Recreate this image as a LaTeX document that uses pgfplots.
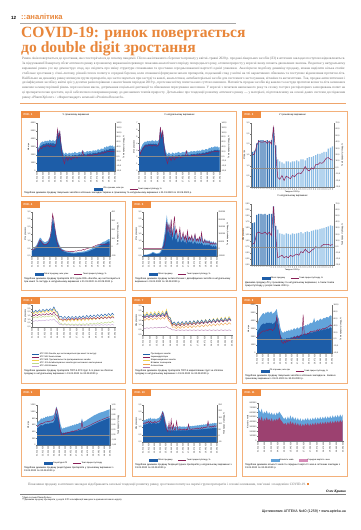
\documentclass[border=0pt]{standalone}
\usepackage{fontspec}
\setmainfont{Liberation Serif}
\setsansfont{Liberation Sans}
\usepackage{pgfplots}
\usepackage{pgfplotstable}
\pgfplotsset{compat=1.18}

\definecolor{org}{HTML}{E8863A}
\definecolor{pbord}{HTML}{F3B07A}
\definecolor{ptab}{HTML}{EF8A3E}
\definecolor{cblue}{HTML}{1D5DA8}
\definecolor{lblue}{HTML}{62A3DA}
\definecolor{cbar1}{HTML}{3573B3}
\definecolor{cbar2}{HTML}{8CBDE5}
\definecolor{cpur}{HTML}{8A1F57}
\definecolor{ppink}{HTML}{D68CB8}
\definecolor{cyel}{HTML}{F2CF4A}
\definecolor{cgrn}{HTML}{BFD98A}
\definecolor{clav}{HTML}{C6A5D6}
\definecolor{corg}{HTML}{EFA24C}
\definecolor{txtg}{HTML}{6A6A6A}

\newcommand{\tickf}{\sffamily\fontsize{2}{2.3}\selectfont}
\newcommand{\wkf}{\sffamily\fontsize{1.5}{1.7}\selectfont}
\newcommand{\capf}{\sffamily\fontsize{2.4}{2.95}\selectfont}
\newcommand{\legf}{\sffamily\fontsize{2.1}{2.4}\selectfont}

\pgfplotsset{
  base/.style={scale only axis, anchor=south west,
    axis line style={black!55,line width=0.2pt},
    every tick/.style={black!55,line width=0.2pt},
    major tick length=0.8pt, tick align=outside,
    tick label style={font=\tickf, text=black!85},
    yticklabel style={inner sep=0.6pt},
    xticklabel style={inner sep=0.6pt},
    label style={font=\tickf, inner sep=0.5pt},
    title style={font=\sffamily\fontsize{2.4}{2.8}\selectfont, inner sep=0.8pt},
    scaled ticks=false,
    /pgf/number format/fixed,
    /pgf/number format/assume math mode=true,
    /pgf/number format/1000 sep={},
    xmin=0, xmax=273},
  dates/.style={xtick={0,21,42,63,84,105,126,147,168,189,210,231,252,273},
    xticklabels={01.01.2020,22.01.2020,12.02.2020,04.03.2020,25.03.2020,15.04.2020,06.05.2020,27.05.2020,17.06.2020,08.07.2020,29.07.2020,19.08.2020,09.09.2020,30.09.2020},
    xticklabel style={rotate=90,anchor=east}},
  lax/.style={base, dates, axis x line*=bottom, axis y line*=left},
  rax/.style={base, axis x line=none, axis y line*=right},
  d1/.style={yticklabel style={/pgf/number format/.cd,fixed,fixed zerofill,precision=1,use comma}},
  d2/.style={yticklabel style={/pgf/number format/.cd,fixed,fixed zerofill,precision=2,use comma}},
  leg/.style={legend style={draw=none, fill=none, font=\legf, legend columns=2, inner sep=0pt, outer sep=0pt, nodes={inner sep=0.4pt}, /tikz/every even column/.append style={column sep=5pt}}},
  bluesq/.style={legend image code/.code={\fill[cblue] (0pt,-0.9pt) rectangle (8pt,0.9pt);}},
  lblsq/.style={legend image code/.code={\fill[lblue] (0pt,-0.9pt) rectangle (8pt,0.9pt);}},
  pursq/.style={legend image code/.code={\fill[ppink] (0pt,-0.9pt) rectangle (8pt,0.9pt);}},
  purln/.style={legend image code/.code={\draw[cpur,line width=0.5pt] (0pt,0pt) -- (8pt,0pt);}},
  zline/.style={black!45, line width=0.25pt},
}

\newcommand{\panel}[5]{%
  \draw[pbord, line width=0.8pt] (#1pt,-#2pt) rectangle (#3pt,-#4pt);
  \fill[ptab] (#1pt,-#2pt) rectangle ++(19pt,-6.5pt);
  \node[anchor=west, text=white, font=\sffamily\bfseries\fontsize{2.7}{3}\selectfont, inner sep=0pt, xshift=2.5pt, yshift=-3.3pt] at (#1pt,-#2pt) {РИС. #5};
}

% Fig 1: d, money lo/hi (mln UAH), growth %, packs lo/hi, growth %
\pgfplotstableread{
d lo hi p lo2 hi2 p2
0 3000 4000 70 3.0 4.2 49
4 2500 2800 20 2.6 3.0 11
8 2700 3100 30 3.0 3.5 23
12 3100 3500 37 3.4 3.9 31
16 3200 3600 33 3.6 4.1 37
20 3300 3700 40 3.8 4.3 43
24 3400 3600 43 3.9 4.2 46
28 3300 3800 40 3.8 4.4 43
32 3500 3700 47 4.0 4.3 49
36 3400 3800 43 3.9 4.4 46
40 3500 3700 47 4.0 4.3 49
44 3400 3900 40 3.9 4.5 43
48 3500 3800 47 4.0 4.4 49
52 3400 3700 43 3.9 4.3 46
56 3500 3900 43 4.0 4.5 46
60 3400 3700 40 3.9 4.3 43
64 3300 3800 43 3.8 4.4 46
68 3600 3900 57 4.2 4.6 60
72 5000 5300 113 6.0 6.5 123
76 4200 4600 77 5.0 5.4 80
80 4800 5100 103 5.6 6.0 106
84 3500 3800 47 4.0 4.4 49
88 2500 2800 7 2.9 3.3 9
92 2000 2300 -13 2.3 2.7 -11
96 1700 2100 -30 2.0 2.4 -29
100 2000 2300 -10 2.3 2.7 -9
104 1900 2200 -3 2.2 2.6 -3
108 1800 2100 -17 2.1 2.4 -17
112 2000 2300 -3 2.3 2.7 -3
116 1900 2200 -7 2.2 2.6 -6
120 1800 2200 -13 2.1 2.5 -14
124 2000 2300 0 2.3 2.7 0
128 1900 2200 -7 2.2 2.6 -6
132 2000 2400 -3 2.3 2.8 -3
136 2000 2300 3 2.3 2.7 3
140 1900 2200 -7 2.2 2.6 -6
144 2000 2300 0 2.3 2.7 0
148 2100 2400 -3 2.4 2.8 -3
152 2000 2300 3 2.3 2.7 3
156 2100 2400 0 2.4 2.8 0
160 2000 2600 23 2.3 3.0 23
164 2100 2400 0 2.4 2.8 0
168 2100 2300 3 2.4 2.7 3
172 2000 2400 0 2.3 2.8 0
176 2200 2500 3 2.5 2.9 3
180 2100 2400 7 2.4 2.8 6
184 2200 2500 3 2.5 2.9 3
188 2200 2500 7 2.5 2.9 6
192 2100 2400 0 2.4 2.8 0
196 2300 2600 7 2.6 3.0 6
200 2200 2500 7 2.5 2.9 6
204 2300 2600 10 2.6 3.0 9
208 2200 2500 7 2.5 2.9 6
212 2300 2700 10 2.6 3.1 9
216 2400 2700 13 2.7 3.1 11
220 2300 2600 10 2.6 3.0 9
224 2400 2800 13 2.7 3.2 11
228 2500 2800 17 2.8 3.2 14
232 2400 2700 13 2.7 3.1 11
236 2600 3000 20 2.9 3.4 17
240 2500 2900 17 2.8 3.3 14
244 2700 3100 20 3.0 3.5 20
248 2600 3000 23 2.9 3.4 20
252 2700 3100 20 3.0 3.5 20
256 2800 3200 23 3.1 3.6 23
260 2700 3100 20 3.0 3.5 20
264 2800 3200 23 3.1 3.6 23
268 2700 3000 20 3.0 3.4 20
272 2800 3100 20 3.1 3.5 20
}\tA

% Fig 3: weeks
\pgfplotstableread{
w v1 p1 v2 p2
1 1.65 20 1.72 4
2 1.70 22 1.75 6
3 2.05 35 2.05 22
4 2.20 42 2.10 24
5 2.20 40 2.10 22
6 2.20 40 2.08 22
7 2.15 42 2.10 24
8 2.20 38 2.05 20
9 2.10 42 2.10 24
10 2.20 37 2.10 18
11 2.80 63 2.40 66
12 1.95 23 1.60 18
13 1.30 -15 1.45 -18
14 1.20 -18 1.30 -16
15 1.15 -12 1.28 -14
16 1.10 -20 1.25 -18
17 1.20 -13 1.30 -16
18 1.20 -15 1.28 -18
19 1.15 -17 1.25 -14
20 1.20 -12 1.30 -16
21 1.20 -14 1.28 -14
22 1.25 -10 1.30 -12
23 1.20 -8 1.32 -14
24 1.30 -9 1.35 -8
25 1.30 -5 1.30 -10
26 1.25 2 1.35 -4
27 1.35 -3 1.38 -8
28 1.40 -5 1.35 -10
29 1.40 0 1.40 -6
30 1.45 -2 1.42 -4
31 1.50 5 1.45 0
32 1.55 5 1.45 -2
33 1.55 8 1.48 -2
34 1.60 7 1.50 2
35 1.65 10 1.52 4
36 1.65 15 1.55 4
37 1.80 16 1.58 4
38 1.85 13 1.62 2
39 1.90 12 1.60 4
}\tW

% Fig 4
\pgfplotstableread{
d lo hi p
0 0.35 0.45 -25
4 0.40 0.50 -33
8 0.45 0.55 -25
12 0.50 0.65 -8
16 0.60 0.75 0
20 0.70 0.90 25
24 0.90 1.10 58
28 1.05 1.25 83
32 1.00 1.20 67
36 0.90 1.05 50
40 0.85 1.00 33
44 0.80 0.95 25
48 0.80 0.95 33
52 0.85 1.00 33
56 0.90 1.05 50
60 1.00 1.20 67
64 1.20 1.40 117
68 1.60 1.90 200
72 2.40 2.70 375
76 2.20 2.40 317
80 1.80 2.00 217
84 1.40 1.60 117
88 1.00 1.20 50
92 0.80 0.95 17
96 0.60 0.75 -8
100 0.50 0.60 -25
104 0.40 0.50 -33
108 0.35 0.45 -37
112 0.30 0.40 -42
116 0.28 0.35 -42
120 0.25 0.32 -45
124 0.22 0.30 -45
128 0.20 0.28 -50
132 0.20 0.27 -47
136 0.18 0.25 -50
140 0.18 0.25 -45
144 0.17 0.24 -50
148 0.17 0.23 -47
152 0.18 0.24 -42
156 0.18 0.25 -45
160 0.19 0.26 -40
164 0.20 0.27 -37
168 0.20 0.28 -33
172 0.21 0.28 -37
176 0.22 0.30 -30
180 0.23 0.31 -25
184 0.24 0.32 -33
188 0.26 0.34 -20
192 0.28 0.37 -17
196 0.30 0.40 -13
200 0.33 0.43 -8
204 0.36 0.46 -8
208 0.40 0.50 -3
212 0.43 0.54 3
216 0.47 0.58 8
220 0.50 0.62 13
224 0.55 0.67 20
228 0.60 0.72 25
232 0.63 0.76 30
236 0.68 0.80 25
240 0.72 0.85 33
244 0.75 0.90 30
248 0.80 0.95 37
252 0.82 0.98 33
256 0.85 1.00 30
260 0.90 1.05 25
264 0.95 1.10 33
268 1.00 1.15 37
272 1.00 1.15 33
}\tB

% Fig 5
\pgfplotstableread{
d lo hi p
0 0.05 0.08 0
4 0.05 0.08 0
8 0.06 0.09 0
12 0.06 0.10 0
16 0.07 0.10 0
20 0.08 0.12 0
24 0.10 0.15 0
28 0.12 0.18 0
32 0.15 0.22 0
36 0.20 0.28 0
40 0.18 0.25 0
44 0.15 0.22 0
48 0.12 0.18 0
52 0.12 0.18 0
56 0.13 0.20 0
60 0.15 0.22 0
64 0.20 0.30 0
68 0.30 0.45 2000
72 0.50 0.70 5000
76 0.80 1.10 10000
80 1.20 1.60 30000
84 1.60 2.20 80000
88 2.40 2.80 180000
92 1.50 2.00 120000
96 1.80 2.30 160000
100 1.20 1.60 90000
104 2.00 2.50 200000
108 1.00 1.40 80000
112 1.30 1.90 150000
116 1.60 2.10 220000
120 1.10 1.50 100000
124 1.20 1.70 130000
128 0.90 1.30 70000
132 1.00 1.40 90000
136 1.30 1.80 140000
140 0.90 1.20 60000
144 1.00 1.30 80000
148 1.10 1.50 110000
152 0.90 1.20 60000
156 1.00 1.40 90000
160 0.80 1.10 50000
164 1.10 1.60 120000
168 0.90 1.20 60000
172 1.00 1.30 80000
176 0.90 1.20 60000
180 1.00 1.40 90000
184 0.80 1.10 50000
188 0.90 1.20 70000
192 1.00 1.50 100000
196 0.80 1.10 50000
200 0.90 1.20 70000
204 0.80 1.10 50000
208 0.90 1.30 80000
212 0.80 1.10 50000
216 0.90 1.50 110000
220 0.80 1.10 50000
224 0.70 1.00 40000
228 0.80 1.20 60000
232 0.70 1.00 40000
236 0.80 1.10 50000
240 0.70 0.95 40000
244 0.80 1.10 50000
248 0.70 0.95 30000
252 0.70 1.00 40000
256 0.60 0.90 30000
260 0.70 1.00 40000
264 0.60 0.85 30000
268 0.70 0.95 35000
272 0.60 0.85 30000
}\tC

% Fig 6: five ATC groups
\pgfplotstableread{
d a b c e f
0 2.25 1.70 2.05 1.38 0.85
6 1.98 1.52 1.78 1.24 0.77
12 2.30 1.73 2.10 1.41 0.88
18 2.03 1.55 1.83 1.27 0.80
24 2.36 1.77 2.15 1.45 0.91
30 2.08 1.58 1.88 1.30 0.83
36 2.41 1.80 2.20 1.48 0.95
42 2.14 1.62 1.93 1.33 0.87
48 2.46 1.83 2.25 1.51 0.98
54 2.19 1.65 1.98 1.37 0.90
60 2.51 1.86 2.30 1.54 1.01
66 2.24 1.68 2.03 1.40 0.93
72 2.75 2.05 2.50 1.68 1.10
78 2.20 1.65 2.00 1.27 0.80
84 2.05 1.55 1.85 1.08 0.65
90 1.35 1.05 1.05 0.57 0.35
96 1.45 1.10 1.05 0.48 0.35
102 1.15 0.91 0.76 0.32 0.24
108 1.45 1.12 1.06 0.47 0.34
114 1.15 0.93 0.77 0.31 0.23
120 1.45 1.15 1.07 0.44 0.32
126 1.15 0.96 0.78 0.28 0.22
132 1.45 1.18 1.08 0.43 0.31
138 1.15 0.99 0.80 0.27 0.20
144 1.46 1.20 1.11 0.43 0.30
150 1.18 1.01 0.82 0.28 0.20
156 1.49 1.22 1.13 0.44 0.30
162 1.21 1.03 0.85 0.29 0.20
168 1.53 1.24 1.16 0.45 0.30
174 1.24 1.05 0.88 0.31 0.21
180 1.58 1.26 1.20 0.47 0.31
186 1.30 1.07 0.92 0.33 0.21
192 1.62 1.28 1.23 0.52 0.31
198 1.35 1.09 0.95 0.37 0.22
204 1.66 1.30 1.27 0.54 0.32
210 1.39 1.11 1.00 0.39 0.22
216 1.71 1.32 1.33 0.59 0.32
222 1.43 1.13 1.06 0.44 0.23
228 1.75 1.34 1.39 0.63 0.33
234 1.47 1.15 1.12 0.48 0.23
240 1.79 1.36 1.45 0.67 0.33
246 1.52 1.17 1.17 0.53 0.24
252 1.84 1.38 1.50 0.71 0.34
258 1.56 1.19 1.23 0.57 0.24
264 1.88 1.40 1.56 0.76 0.35
270 1.60 1.20 1.30 0.62 0.25
}\tD

% Fig 7: five groups
\pgfplotstableread{
d a b c e f
0 2.15 1.95 2.35 1.70 0.73
6 1.86 1.76 1.96 1.51 0.68
12 2.18 1.98 2.38 1.73 0.75
18 1.89 1.79 1.99 1.54 0.69
24 2.20 2.00 2.40 1.75 0.76
30 1.92 1.82 2.02 1.57 0.71
36 2.23 2.03 2.43 1.78 0.78
42 1.95 1.85 2.05 1.60 0.72
48 2.26 2.06 2.46 1.81 0.79
54 1.97 1.87 2.07 1.62 0.74
60 2.29 2.09 2.49 1.84 0.81
66 2.00 1.90 2.10 1.65 0.77
72 2.45 2.25 2.65 2.00 0.88
78 1.85 1.70 1.90 1.50 0.72
84 1.75 1.50 1.80 1.30 0.68
90 1.15 1.00 1.00 0.80 0.52
96 1.35 1.10 1.25 0.85 0.53
102 1.06 0.92 0.87 0.66 0.47
108 1.38 1.13 1.29 0.88 0.53
114 1.09 0.95 0.90 0.68 0.47
120 1.40 1.16 1.32 0.90 0.53
126 1.12 0.98 0.94 0.71 0.47
132 1.43 1.19 1.36 0.93 0.53
138 1.15 1.01 0.98 0.75 0.47
144 1.46 1.23 1.41 0.96 0.53
150 1.17 1.04 1.03 0.76 0.47
156 1.49 1.26 1.46 0.97 0.53
162 1.20 1.08 1.08 0.79 0.47
168 1.51 1.30 1.51 1.00 0.53
174 1.23 1.12 1.13 0.82 0.47
180 1.55 1.34 1.56 1.05 0.53
186 1.26 1.16 1.18 0.86 0.47
192 1.58 1.38 1.61 1.08 0.53
198 1.29 1.20 1.24 0.89 0.47
204 1.61 1.42 1.66 1.11 0.53
210 1.33 1.24 1.29 0.93 0.47
216 1.64 1.46 1.71 1.15 0.53
222 1.36 1.28 1.34 0.97 0.47
228 1.68 1.50 1.77 1.18 0.53
234 1.40 1.32 1.39 1.00 0.47
240 1.71 1.54 1.82 1.22 0.53
246 1.43 1.36 1.45 1.03 0.47
252 1.75 1.58 1.87 1.25 0.53
258 1.47 1.40 1.50 1.06 0.47
264 1.78 1.62 1.92 1.28 0.53
270 1.50 1.44 1.55 1.10 0.47
}\tE

% Fig 8
\pgfplotstableread{
d lo hi p
0 2500 3500 7
4 2800 3900 11
8 3000 4300 14
12 3300 4500 18
16 3500 4700 21
20 3600 4900 23
24 3700 5000 25
28 3600 4800 23
32 3700 5100 25
36 3800 5000 28
40 3700 5200 25
44 3800 5000 30
48 3700 5100 28
52 3800 5200 30
56 3600 4900 25
60 3700 5000 28
64 3800 5100 32
68 4000 5300 42
72 4500 5500 67
76 3500 4600 49
80 3000 4200 30
84 2400 3300 11
88 2000 2800 -3
92 1800 2600 -10
96 1700 2500 -12
100 1800 2700 -5
104 1700 2600 -10
108 1900 2800 -3
112 1800 2700 -7
116 1900 2900 0
120 1800 2700 -5
124 2000 3000 2
128 1900 2800 0
132 2000 3000 4
136 2100 3100 7
140 2000 2900 2
144 2100 3100 7
148 2200 3200 9
152 2100 3000 4
156 2200 3200 9
160 2300 3300 11
164 2200 3200 14
168 2400 3400 72
172 2300 3300 14
176 2400 3500 16
180 2300 3400 14
184 2500 3600 18
188 2400 3500 16
192 2500 3700 21
196 2600 3800 23
200 2500 3700 21
204 2600 3900 23
208 2700 4400 25
212 2600 3800 23
216 2700 4000 25
220 2800 4100 28
224 2700 4000 25
228 2800 4200 30
232 2900 4300 30
236 2800 4100 28
240 2900 4300 32
244 3000 4400 32
248 2900 4300 30
252 3000 4500 35
256 3100 4500 35
260 3000 4400 37
264 3100 4600 39
268 3200 4700 42
272 3100 4600 39
}\tF

% Fig 9
\pgfplotstableread{
d lo hi r
0 500 650 0.33
4 520 700 0.37
8 550 720 0.40
12 580 760 0.43
16 600 800 0.47
20 580 780 0.45
24 600 820 0.48
28 620 800 0.51
32 640 850 0.53
36 620 830 0.52
40 650 870 0.55
44 630 840 0.53
48 660 880 0.56
52 650 860 0.55
56 670 890 0.57
60 660 880 0.59
64 700 920 0.64
68 800 1000 0.80
72 950 1150 1.07
76 900 1080 0.93
80 750 950 0.67
84 600 780 0.40
88 450 620 0.13
92 380 520 0.00
96 350 480 -0.03
100 370 520 0.07
104 360 500 0.04
108 380 540 0.09
112 370 520 0.07
116 390 560 0.11
120 380 540 0.09
124 400 580 0.13
128 390 560 0.12
132 410 600 0.16
136 400 580 0.13
140 420 620 0.17
144 410 600 0.16
148 430 640 0.20
152 420 620 0.19
156 440 650 0.23
160 450 670 0.24
164 440 650 0.23
168 460 800 0.53
172 470 690 0.27
176 480 700 0.28
180 490 720 0.31
184 500 730 0.32
188 520 760 0.35
192 530 780 0.36
196 550 800 0.39
200 560 820 0.40
204 580 840 0.43
208 600 860 0.45
212 610 880 0.47
216 630 900 0.49
220 640 910 0.51
224 660 930 0.53
228 670 940 0.55
232 690 960 0.57
236 700 970 0.59
240 710 980 0.60
244 720 990 0.61
248 740 1000 0.64
252 750 1010 0.65
256 760 1020 0.67
260 780 1040 0.69
264 790 1050 0.71
268 800 1060 0.72
272 810 1070 0.73
}\tG

% Fig 10
\pgfplotstableread{
d lo hi p
0 1.10 1.40 94
4 1.20 1.50 106
8 1.15 1.45 100
12 1.25 1.55 112
16 1.20 1.50 106
20 1.30 1.60 118
24 1.25 1.55 106
28 1.30 1.65 118
32 1.20 1.50 106
36 1.30 1.60 112
40 1.25 1.55 106
44 1.30 1.60 118
48 1.20 1.50 106
52 1.30 1.60 112
56 1.25 1.60 118
60 1.30 1.65 118
64 1.40 1.75 130
68 1.60 1.90 154
72 1.85 2.10 190
76 1.70 2.00 166
80 1.40 1.70 118
84 1.10 1.35 70
88 0.85 1.10 46
92 0.75 1.00 34
96 0.80 1.05 106
100 0.75 1.00 40
104 0.80 1.05 130
108 0.75 1.00 46
112 0.80 1.10 94
116 0.75 1.00 46
120 0.80 1.05 52
124 0.75 1.00 118
128 0.80 1.05 52
132 0.78 1.02 46
136 0.80 1.08 58
140 0.76 1.00 46
144 0.80 1.05 52
148 0.78 1.02 48
152 0.80 1.06 56
156 0.77 1.00 46
160 0.80 1.05 52
164 0.78 1.03 48
168 0.82 1.08 94
172 0.80 1.05 52
176 0.82 1.08 56
180 0.80 1.05 51
184 0.83 1.10 58
188 0.80 1.06 53
192 0.84 1.12 60
196 0.82 1.08 56
200 0.85 1.14 64
204 0.83 1.10 58
208 0.86 1.15 64
212 0.84 1.12 58
216 0.88 1.18 68
220 0.85 1.14 60
224 0.88 1.20 70
228 0.86 1.15 64
232 0.90 1.22 72
236 0.88 1.18 68
240 0.92 1.25 118
244 0.90 1.20 70
248 0.93 1.26 76
252 0.90 1.22 70
256 0.95 1.28 80
260 0.92 1.24 72
264 0.96 1.30 82
268 0.94 1.26 76
272 0.96 1.30 82
}\tH

% Fig 11
\pgfplotstableread{
d hi mid
0 700000 450000
4 650000 500000
8 600000 420000
12 680000 520000
16 560000 400000
20 620000 480000
24 580000 420000
28 640000 500000
32 560000 430000
36 610000 470000
40 550000 410000
44 600000 480000
48 540000 400000
52 590000 460000
56 530000 420000
60 600000 470000
64 560000 430000
68 620000 500000
72 580000 450000
76 540000 420000
80 500000 380000
84 460000 350000
88 500000 380000
92 440000 330000
96 520000 400000
100 450000 340000
104 540000 420000
108 460000 350000
112 520000 400000
116 440000 330000
120 500000 390000
124 430000 320000
128 490000 380000
132 420000 310000
136 480000 370000
140 410000 300000
144 470000 360000
148 420000 310000
152 480000 370000
156 430000 320000
160 490000 380000
164 420000 310000
168 480000 370000
172 430000 320000
176 490000 380000
180 440000 330000
184 500000 390000
188 440000 330000
192 500000 390000
196 450000 340000
200 510000 400000
204 450000 340000
208 510000 400000
212 460000 350000
216 520000 410000
220 460000 350000
224 520000 410000
228 470000 360000
232 530000 420000
236 470000 360000
240 540000 420000
244 480000 370000
248 540000 430000
252 490000 380000
256 550000 430000
260 490000 380000
264 560000 440000
268 500000 390000
272 560000 440000
}\tI

\begin{document}
\begin{tikzpicture}
\path[use as bounding box, fill=white] (0pt,0pt) rectangle (360pt,-530pt);

% ---------- header ----------
\node[anchor=base west, inner sep=0, font=\sffamily\bfseries\fontsize{4.5}{5}\selectfont] at (11pt,-19.5pt) {12};
\node[anchor=base west, inner sep=0, text=org, font=\sffamily\bfseries\fontsize{7.6}{8}\selectfont] at (21pt,-19.5pt) {::аналітика};
\draw[black!35, line width=0.5pt] (20pt,-22.8pt) -- (236pt,-22.8pt);
\node[anchor=base west, inner sep=0, text=org, font=\bfseries\fontsize{15.6}{16}\selectfont] at (21pt,-37.3pt) {COVID-19: ринок повертається};
\node[anchor=base west, inner sep=0, text=org, font=\bfseries\fontsize{15.6}{16}\selectfont] at (21pt,-52pt) {до double digit зростання};

\node[anchor=north west, inner sep=0, text width=323pt, align=justify, text=txtg, font=\fontsize{3.4}{4.85}\selectfont] at (22pt,-57pt) {Ринок ліків повертається до зростання, яке спостерігалося до початку пандемії. Після «ажіотажного» березня та провалу у квітні–травні 2020 р. продажі лікарських засобів (ЛЗ) в аптечних закладах поступово відновлюються. За підсумками III кварталу обсяг аптечного ринку в грошовому вираженні перевищує показник аналогічного періоду попереднього року, а темпи приросту у вересні знову сягають двозначних значень. Водночас у натуральному вираженні ринок усе ще демонструє спад, що свідчить про зміну структури споживання та зростання середньозваженої вартості однієї упаковки. Аналізуючи подобову динаміку продажу, можна виділити кілька етапів: стабільне зростання у січні–лютому, різкий сплеск попиту в середині березня, коли споживачі формували запаси препаратів, подальший спад у квітні на тлі карантинних обмежень та поступове відновлення протягом літа. Найбільше на динаміку ринку вплинули групи препаратів, що застосовуються при застуді та кашлі, анальгетики, антибактеріальні засоби для системного застосування, вітаміни та антисептики. Так, продаж антисептичних і дезінфікуючих засобів у квітні зріс у десятки разів порівняно з аналогічним періодом 2019 р., проте вже влітку попит на них суттєво знизився. Натомість продаж засобів від кашлю та застуди протягом весни та літа залишався нижчим за минулорічний рівень через носіння масок, дотримання соціальної дистанції та обмеження пересування населення. У вересні з початком навчального року та сезону гострих респіраторних захворювань попит на ці препарати почав зростати, що й забезпечило повернення ринку до двозначних темпів приросту. Детальніше про тенденції розвитку аптечного ринку — у матеріалі, підготовленому на основі даних системи дослідження ринку «PharmXplorer» / «Фармстандарт» компанії «Proxima Research».};

\draw[org!75, line width=0.9pt] (20pt,-103pt) -- (346pt,-103pt);

% ---------- panel frames ----------
\panel{21}{111}{236}{196}{1}
\panel{242}{111}{347}{290}{3}
\panel{21}{201}{125}{290}{4}
\panel{132}{201}{236}{290}{5}
\panel{21}{297}{125}{383}{6}
\panel{132}{297}{236}{383}{7}
\panel{242}{297}{347}{383}{8}
\panel{21}{389}{125}{476}{9}
\panel{132}{389}{236}{476}{10}
\panel{242}{389}{347}{476}{11}

% ================= Fig 1 left =================
\begin{axis}[lax, at={(37pt,-171pt)}, width=78pt, height=48pt,
  ymin=0, ymax=6000, ytick={0,1000,...,6000}, ylabel={Млн грн},
  title={У грошовому вираженні}]
  \addplot[fill=lblue, draw=none] table[x=d,y=hi]{\tA} \closedcycle;
  \addplot[fill=cblue, draw=none] table[x=d,y=lo]{\tA} \closedcycle;
\end{axis}
\begin{axis}[rax, d1, leg, at={(37pt,-171pt)}, width=78pt, height=48pt,
  ymin=-60, ymax=140, ytick={-60,-40,...,140}, ylabel={Темп приросту/спаду, \%},
  legend style={at={(1.17,-0.375)}, anchor=center}]
  \addlegendimage{bluesq}
  \addlegendentry{ЛЗ в грошах, млн грн}
  \addplot[cpur, line width=0.45pt, purln] table[x=d,y=p]{\tA};
  \addlegendentry{Темп приросту/спаду, \%}
  \addplot[zline] coordinates {(0,0) (273,0)};
\end{axis}

% ================= Fig 1 right =================
\begin{axis}[lax, at={(139pt,-171pt)}, width=81pt, height=48pt,
  ymin=0, ymax=7, ytick={0,1,...,7}, ylabel={Млн упаковок},
  title={У натуральному вираженні}]
  \addplot[fill=lblue, draw=none] table[x=d,y=hi2]{\tA} \closedcycle;
  \addplot[fill=cblue, draw=none] table[x=d,y=lo2]{\tA} \closedcycle;
\end{axis}
\begin{axis}[rax, d1, at={(139pt,-171pt)}, width=81pt, height=48pt,
  ymin=-60, ymax=140, ytick={-60,-40,...,140}, ylabel={Темп приросту/спаду, \%}]
  \addplot[cpur, line width=0.45pt] table[x=d,y=p2]{\tA};
  \addplot[zline] coordinates {(0,0) (273,0)};
\end{axis}
\node[anchor=north west, inner sep=0, text width=210pt, font=\capf] at (24pt,-191.5pt) {Подобова динаміка продажу лікарських засобів в аптечних закладах України в грошовому та натуральному вираженні з 01.01.2020 по 30.09.2020 р.};

% ================= Fig 3 upper =================
\begin{axis}[base, at={(251pt,-187pt)}, width=83pt, height=64pt,
  axis x line*=bottom, axis y line*=left,
  xmin=0.3, xmax=39.7, xtick={1,...,39}, xticklabel style={rotate=90, anchor=east, font=\wkf},
  ymin=0, ymax=3, ytick={0,0.5,...,3}, d1, ylabel={Млрд грн},
  xlabel={Тиждень 2020 р.}, title={У грошовому вираженні}]
  \addplot[ybar, bar width=1.25pt, bar shift=0pt, fill=cbar1, draw=none, restrict x to domain=1:12] table[x=w,y=v1]{\tW};
  \addplot[ybar, bar width=1.25pt, bar shift=0pt, fill=cbar2, draw=none, restrict x to domain=13:39] table[x=w,y=v1]{\tW};
\end{axis}
\begin{axis}[rax, d1, at={(251pt,-187pt)}, width=83pt, height=64pt,
  xmin=0.3, xmax=39.7, ymin=-30, ymax=70, ytick={-30,-20,...,70}, ylabel={Темп приросту/спаду, \%}]
  \addplot[zline] coordinates {(0.3,0) (39.7,0)};
  \addplot[cpur, line width=0.5pt] table[x=w,y=p1]{\tW};
\end{axis}
% ================= Fig 3 lower =================
\begin{axis}[base, at={(251pt,-265pt)}, width=83pt, height=61pt,
  axis x line*=bottom, axis y line*=left,
  xmin=0.3, xmax=39.7, xtick={1,...,39}, xticklabel style={rotate=90, anchor=east, font=\wkf},
  ymin=0, ymax=2.5, ytick={0,0.25,...,2.5}, d2, ylabel={Млн упаковок},
  xlabel={Тиждень 2020 р.}, title={У натуральному вираженні}]
  \addplot[ybar, bar width=1.25pt, bar shift=0pt, fill=cbar1, draw=none, restrict x to domain=1:12] table[x=w,y=v2]{\tW};
  \addplot[ybar, bar width=1.25pt, bar shift=0pt, fill=cbar2, draw=none, restrict x to domain=13:39] table[x=w,y=v2]{\tW};
\end{axis}
\begin{axis}[rax, d1, leg, at={(251pt,-265pt)}, width=83pt, height=61pt,
  xmin=0.3, xmax=39.7, ymin=-30, ymax=70, ytick={-30,-20,...,70}, ylabel={Темп приросту/спаду, \%},
  legend style={at={(0.5,-0.215)}, anchor=center}]
  \addlegendimage{bluesq}
  \addlegendentry{Обсяг продажу}
  \addplot[cpur, line width=0.5pt, purln] table[x=w,y=p2]{\tW};
  \addlegendentry{Темп приросту/спаду, \%}
  \addplot[zline] coordinates {(0.3,0) (39.7,0)};
\end{axis}
\node[anchor=north west, inner sep=0, text width=100pt, font=\capf] at (245pt,-282pt) {Динаміка продажу ЛЗ у грошовому та натуральному вираженні, а також темпи приросту/спаду у розрізі тижнів 2020 р.};

% ================= Fig 4 =================
\begin{axis}[lax, at={(32pt,-256pt)}, width=78pt, height=44pt,
  ymin=0, ymax=3, ytick={0,0.5,...,3}, d1, ylabel={Млн упаковок}]
  \addplot[fill=lblue, draw=none] table[x=d,y=hi]{\tB} \closedcycle;
  \addplot[fill=cblue, draw=none] table[x=d,y=lo]{\tB} \closedcycle;
\end{axis}
\begin{axis}[rax, leg, at={(32pt,-256pt)}, width=78pt, height=44pt,
  ymin=-100, ymax=400, ytick={-100,0,...,400}, ylabel={Темп приросту/спаду, \%},
  legend style={at={(0.5,-0.41)}, anchor=center}]
  \addlegendimage{bluesq}
  \addlegendentry{Обсяг продажу, млн упак.}
  \addplot[cpur, line width=0.45pt, purln] table[x=d,y=p]{\tB};
  \addlegendentry{Темп приросту/спаду, \%}
  \addplot[zline] coordinates {(0,0) (273,0)};
\end{axis}
\node[anchor=north west, inner sep=0, text width=98pt, font=\capf] at (24pt,-278pt) {Подобова динаміка продажу препаратів АТС-групи R05 «Засоби, що застосовуються при кашлі та застуді» в натуральному вираженні з 01.01.2020 по 30.09.2020 р.};

% ================= Fig 5 =================
\begin{axis}[lax, at={(143pt,-256pt)}, width=74pt, height=44pt,
  ymin=0, ymax=3, ytick={0,0.5,...,3}, d1, ylabel={Млн упаковок}]
  \addplot[fill=lblue, draw=none] table[x=d,y=hi]{\tC} \closedcycle;
  \addplot[fill=cblue, draw=none] table[x=d,y=lo]{\tC} \closedcycle;
\end{axis}
\begin{axis}[rax, leg, at={(143pt,-256pt)}, width=74pt, height=44pt,
  ymin=-50000, ymax=250000, ytick={-50000,0,...,250000}, ylabel={Темп приросту/спаду, \%},
  legend style={at={(0.5,-0.41)}, anchor=center}]
  \addlegendimage{bluesq}
  \addlegendentry{Обсяг продажу}
  \addplot[cpur, line width=0.45pt, purln] table[x=d,y=p]{\tC};
  \addlegendentry{Темп приросту/спаду, \%}
  \addplot[zline] coordinates {(0,0) (273,0)};
\end{axis}
\node[anchor=north west, inner sep=0, text width=98pt, font=\capf] at (135pt,-278pt) {Подобова динаміка продажу антисептичних і дезінфікуючих засобів в натуральному вираженні з 01.01.2020 по 30.09.2020 р.};

% ================= Fig 6 =================
\begin{axis}[lax, at={(32pt,-327pt)}, width=83pt, height=22pt,
  ymin=0, ymax=3, ytick={0,0.5,...,3}, d1, ylabel={Млн упаковок},
  legend style={at={(0.0,-1.14)}, anchor=north west, draw=none, fill=none, font=\legf, inner sep=0pt, row sep=-0.6pt, nodes={inner sep=0.35pt}},
  legend cell align=left, reverse legend,
  legend image code/.code={\draw[#1] (0pt,0pt) -- (7pt,0pt);}]
  \addplot[clav, line width=0.4pt] table[x=d,y=f]{\tD};
  \addlegendentry{ATC A11 Вітаміни}
  \addplot[cgrn, line width=0.4pt] table[x=d,y=e]{\tD};
  \addlegendentry{ATC J01 Антибактеріальні засоби для системного застосування}
  \addplot[cyel, line width=0.4pt] table[x=d,y=c]{\tD};
  \addlegendentry{ATC M01 Протизапальні та протиревматичні засоби}
  \addplot[cpur, line width=0.4pt] table[x=d,y=b]{\tD};
  \addlegendentry{ATC N02 Анальгетики}
  \addplot[cblue, line width=0.4pt] table[x=d,y=a]{\tD};
  \addlegendentry{ATC R05 Засоби, що застосовуються при кашлі та застуді}
\end{axis}
\node[anchor=north west, inner sep=0, text width=98pt, font=\capf] at (24pt,-369.5pt) {Подобова динаміка продажу препаратів ТОП-5 АТС-груп 2-го рівня за обсягом продажу в натуральному вираженні з 01.01.2020 по 30.09.2020 р.};

% ================= Fig 7 =================
\begin{axis}[lax, at={(143pt,-335pt)}, width=89pt, height=29pt,
  ymin=0, ymax=3, ytick={0,0.5,...,3}, d1, ylabel={Млн упаковок},
  legend style={at={(0.0,-0.6)}, anchor=north west, draw=none, fill=none, font=\legf, inner sep=0pt, row sep=-0.6pt, nodes={inner sep=0.35pt}},
  legend cell align=left, reverse legend,
  legend image code/.code={\draw[#1] (0pt,0pt) -- (7pt,0pt);}]
  \addplot[clav!70!cpur, line width=0.4pt] table[x=d,y=f]{\tE};
  \addlegendentry{Антисептики}
  \addplot[corg, line width=0.4pt] table[x=d,y=e]{\tE};
  \addlegendentry{Вітаміни та мінерали}
  \addplot[cyel, line width=0.4pt] table[x=d,y=c]{\tE};
  \addlegendentry{Жарознижувальні засоби}
  \addplot[cpur, line width=0.4pt] table[x=d,y=b]{\tE};
  \addlegendentry{Імуномодулятори}
  \addplot[cblue, line width=0.4pt] table[x=d,y=a]{\tE};
  \addlegendentry{Противірусні засоби}
\end{axis}
\node[anchor=north west, inner sep=0, text width=98pt, font=\capf] at (135pt,-369.5pt) {Подобова динаміка продажу препаратів ТОП-5 маркетованих груп за обсягом продажу в натуральному вираженні з 01.01.2020 по 30.09.2020 р.};

% ================= Fig 8 =================
\begin{axis}[lax, at={(257pt,-353pt)}, width=75pt, height=48pt,
  ymin=0, ymax=6000, ytick={0,1000,...,6000}, ylabel={Млн грн}]
  \addplot[fill=lblue, draw=none] table[x=d,y=hi]{\tF} \closedcycle;
  \addplot[fill=cblue, draw=none] table[x=d,y=lo]{\tF} \closedcycle;
\end{axis}
\begin{axis}[rax, d1, leg, at={(257pt,-353pt)}, width=75pt, height=48pt,
  ymin=-40, ymax=100, ytick={-40,-20,...,100}, ylabel={Темп приросту/спаду, \%},
  legend style={at={(0.5,-0.375)}, anchor=center}]
  \addlegendimage{bluesq}
  \addlegendentry{ЛЗ в грошах, млн грн}
  \addplot[cpur, line width=0.45pt, purln] table[x=d,y=p]{\tF};
  \addlegendentry{Темп приросту/спаду, \%}
  \addplot[zline] coordinates {(0,0) (273,0)};
\end{axis}
\node[anchor=north west, inner sep=0, text width=99pt, font=\capf] at (245pt,-375pt) {Подобова динаміка продажу лікарських засобів в аптечних закладах м. Києва в грошовому вираженні з 01.01.2020 по 30.09.2020 р.};

% ================= Fig 9 =================
\begin{axis}[lax, at={(37pt,-445pt)}, width=73pt, height=40pt,
  ymin=0, ymax=1200, ytick={0,200,...,1200}, /pgf/number format/1000 sep={\,}, ylabel={Млн грн}]
  \addplot[fill=lblue, draw=none] table[x=d,y=hi]{\tG} \closedcycle;
  \addplot[fill=cblue, draw=none] table[x=d,y=lo]{\tG} \closedcycle;
\end{axis}
\begin{axis}[rax, d2, leg, at={(37pt,-445pt)}, width=73pt, height=40pt,
  ymin=-0.4, ymax=1.2, ytick={-0.4,-0.2,...,1.2}, ylabel={Темп приросту/спаду},
  legend style={at={(0.5,-0.45)}, anchor=center}]
  \addlegendimage{bluesq}
  \addlegendentry{Рецептурні ЛЗ}
  \addplot[cpur, line width=0.45pt, purln] table[x=d,y=r]{\tG};
  \addlegendentry{Темп приросту/спаду}
  \addplot[zline] coordinates {(0,0) (273,0)};
\end{axis}
\node[anchor=north west, inner sep=0, text width=98pt, font=\capf] at (24pt,-466.5pt) {Подобова динаміка продажу рецептурних препаратів у грошовому вираженні з 01.01.2020 по 30.09.2020 р.};

% ================= Fig 10 =================
\begin{axis}[lax, at={(143pt,-442pt)}, width=74pt, height=37pt,
  ymin=0, ymax=2.5, ytick={0,0.5,...,2.5}, d1, ylabel={Млн упаковок}]
  \addplot[fill=lblue, draw=none] table[x=d,y=hi]{\tH} \closedcycle;
  \addplot[fill=cblue, draw=none] table[x=d,y=lo]{\tH} \closedcycle;
\end{axis}
\begin{axis}[rax, leg, at={(143pt,-442pt)}, width=74pt, height=37pt,
  ymin=-50, ymax=250, ytick={-50,0,...,250}, ylabel={Темп приросту/спаду, \%},
  legend style={at={(0.5,-0.49)}, anchor=center}]
  \addlegendimage{bluesq}
  \addlegendentry{Обсяг продажу}
  \addplot[cpur, line width=0.45pt, purln] table[x=d,y=p]{\tH};
  \addlegendentry{Темп приросту/спаду, \%}
  \addplot[zline] coordinates {(0,0) (273,0)};
\end{axis}
\node[anchor=north west, inner sep=0, text width=98pt, font=\capf] at (135pt,-464pt) {Подобова динаміка продажу безрецептурних препаратів у натуральному вираженні з 01.01.2020 по 30.09.2020 р.};

% ================= Fig 11 =================
\begin{axis}[lax, leg, at={(258pt,-441pt)}, width=85pt, height=38pt,
  ymin=0, ymax=800000, ytick={0,100000,...,800000}, ylabel={Кількість чеків},
  legend style={at={(0.5,-0.5)}, anchor=center}]
  \addlegendimage{lblsq}
  \addlegendentry{Кількість чеків}
  \addlegendimage{pursq}
  \addlegendentry{Середня вартість чека}
  \addplot[fill=lblue, draw=none] table[x=d,y=hi]{\tI} \closedcycle;
  \addplot[fill=cpur!85, draw=none] table[x=d,y=mid]{\tI} \closedcycle;
\end{axis}
\node[anchor=north west, inner sep=0, text width=100pt, font=\capf] at (245pt,-463.5pt) {Подобова динаміка кількості чеків та середньої вартості чека в аптечних закладах з 01.01.2020 по 30.09.2020 р.};

% ---------- footer ----------
\node[anchor=base west, inner sep=0, text=txtg, font=\fontsize{3.4}{4}\selectfont] at (28pt,-485pt) {Показники продажу в аптечних закладах відображають загальні тенденції розвитку ринку, зростання попиту на окремі групи препаратів і сезонні коливання, пов’язані з пандемією COVID-19. \textcolor{org}{\rule{2.4pt}{2.4pt}}};
\node[anchor=base east, inner sep=0, font=\itshape\bfseries\fontsize{3.6}{4}\selectfont] at (346pt,-492pt) {Олег Кривко};
\draw[black!50, line width=0.3pt] (20pt,-494.5pt) -- (346pt,-494.5pt);
\node[anchor=base west, inner sep=0, font=\fontsize{2.4}{2.8}\selectfont] at (22pt,-498pt) {*Дані системи PharmXplorer.};
\node[anchor=base west, inner sep=0, font=\fontsize{2.4}{2.8}\selectfont] at (22pt,-500.8pt) {**Динаміка продажу препаратів у розрізі АТС-класифікації наведена за даними аптечного аудиту.};
\node[anchor=base east, inner sep=0, font=\sffamily\fontsize{3.6}{4}\selectfont] at (346pt,-512pt) {Щотижневик АПТЕКА №40 (1259) \textbullet{} www.apteka.ua};
\end{tikzpicture}
\end{document}
